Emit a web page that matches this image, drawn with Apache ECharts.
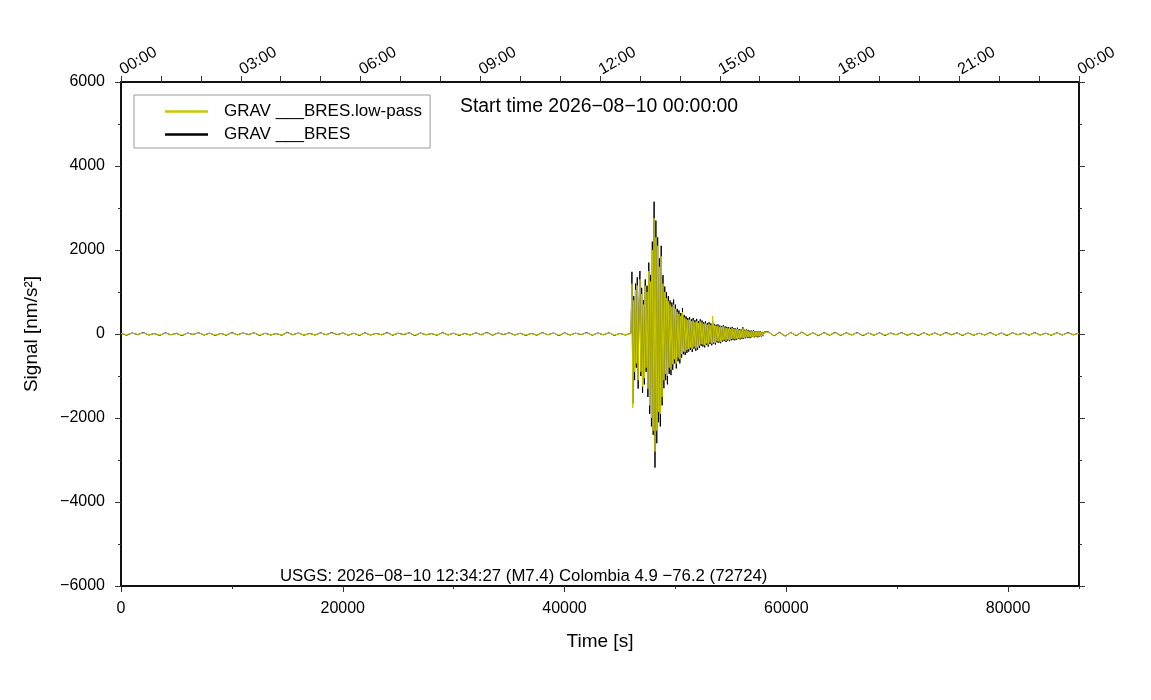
<!DOCTYPE html>
<html>
<head>
<meta charset="utf-8">
<title>GRAV BRES</title>
<script src="https://cdn.jsdelivr.net/npm/echarts@6/dist/echarts.min.js"></script>
<style>
  html, body { margin: 0; padding: 0; background: #fff; }
  #chart { width: 1151px; height: 700px; }
</style>
</head>
<body>
<div id="chart"></div>
<script>
// sample times (s since start of day)
var quietStep = 500;
var preStart = 0;
var burstStart = 46000;
var burstStep = 80;
var postStart = 58400;
var dayEnd = 86400;

// raw trace GRAV ___BRES, nm/s^2
var rawPre = [
  20, -30, 25, -15, 35, -25, 10, -35, 30, -20,
  15, -40, 25, -10, 30, -25, 20, -35, 15, -30,
  35, -20, 25, -15, 30, -35, 20, -25, 10, -30,
  40, -20, 25, -30, 15, -25, 30, -20, 35, -15,
  25, -30, 20, -35, 30, -25, 15, -20, 35, -30,
  20, -15, 30, -40, 25, -20, 10, -30, 35, -25,
  20, -35, 15, -25, 30, -20, 40, -30, 25, -15,
  30, -25, 20, -35, 15, -30, 35, -20, 25, -40,
  30, -25, 20, -15, 35, -30, 25, -20, 30, -35,
  15, -25
];
var rawBurst = [
  20, 1480, -1650, 900, -1100, 1200, -800, 1350, -1300, 700,
  1500, -1000, 1100, -1400, 800, -1200, 1300, -900, 1150, -1500,
  1700, -1900, 1400, -2200, 2200, -2400, 3150, -3180, 2700, -2600,
  2300, -2100, 1800, -2200, 2100, -1700, 1400, -1290, 1130, -1100,
  1000, -1200, 900, -950, 800, -980, 750, -850, 820, -700,
  700, -820, 600, -650, 560, -700, 500, -560, 620, -480,
  450, -500, 420, -450, 380, -420, 400, -380, 350, -430,
  380, -350, 330, -400, 360, -380, 300, -330, 350, -280,
  320, -300, 280, -320, 300, -260, 260, -300, 280, -240,
  250, -270, 300, -230, 240, -250, 220, -200, 230, -210,
  200, -220, 190, -180, 210, -170, 180, -190, 170, -160,
  160, -170, 150, -150, 170, -140, 140, -150, 130, -140,
  150, -120, 120, -130, 110, -120, 160, -110, 100, -100,
  110, -90, 90, -100, 80, -90, 80, -70, 90, -80,
  70, -70, 60, -80, 70, -60, 60, -60, 50, -50,
  50
];
var rawPost = [
  50, -45, 40, -50, 35, -40, 45, -35, 30, -40,
  35, -30, 40, -35, 30, -25, 35, -40, 25, -30,
  30, -35, 25, -20, 35, -30, 20, -35, 30, -25,
  25, -30, 35, -20, 30, -35, 25, -30, 20, -25,
  35, -30, 25, -35, 30, -20, 25, -30, 35, -25,
  20, -30, 30, -25, 35, -20, 25
];

// low-pass trace GRAV ___BRES.low-pass
var lowPre = [
  15, -20, 20, -10, 25, -20, 10, -25, 20, -15,
  10, -30, 20, -10, 25, -20, 15, -25, 10, -20,
  25, -15, 20, -10, 25, -25, 15, -20, 10, -25,
  30, -15, 20, -25, 10, -20, 25, -15, 25, -10,
  20, -25, 15, -25, 20, -20, 10, -15, 25, -20,
  15, -10, 25, -30, 20, -15, 10, -25, 25, -20,
  15, -25, 10, -20, 25, -15, 30, -25, 20, -10,
  25, -20, 15, -25, 10, -25, 25, -15, 20, -30,
  25, -20, 15, -10, 25, -25, 20, -15, 25, -25,
  10, -20
];
var lowBurst = [
  10, 1200, -1760, 800, -900, 1050, -700, 1150, -1100, 600,
  1300, -900, 950, -1250, 700, -1050, 1150, -800, 1000, -1300,
  1500, -1700, 1250, -2000, 2000, -2300, 2760, -2800, 2300, -2300,
  2100, -1850, 1600, -1900, 1850, -1500, 1200, -1100, 1000, -950,
  850, -1000, 780, -800, 700, -850, 650, -720, 700, -600,
  600, -700, 520, -560, 480, -600, 430, -480, 520, -420,
  390, -430, 360, -380, 330, -360, 340, -320, 300, -360,
  320, -300, 280, -340, 300, -320, 260, -280, 300, -240,
  270, -250, 240, -270, 250, -220, 220, -250, 240, -200,
  210, -230, 430, -200, 200, -210, 190, -170, 200, -180,
  170, -190, 160, -150, 180, -140, 150, -160, 140, -130,
  130, -140, 120, -120, 140, -110, 120, -120, 110, -110,
  120, -100, 100, -110, 90, -100, 130, -90, 80, -80,
  90, -70, 70, -80, 60, -70, 60, -60, 70, -60,
  60, -60, 50, -60, 60, -50, 50, -50, 40, -40,
  40
];
var lowPost = [
  40, -35, 30, -40, 30, -30, 35, -25, 25, -30,
  30, -25, 30, -25, 25, -20, 25, -30, 20, -25,
  25, -25, 20, -15, 25, -25, 15, -25, 25, -20,
  20, -25, 25, -15, 25, -25, 20, -25, 15, -20,
  25, -25, 20, -25, 25, -15, 20, -25, 25, -20,
  15, -25, 25, -20, 25, -15, 20
];

var hourLabels = ['00:00', '03:00', '06:00', '09:00', '12:00', '15:00', '18:00', '21:00', '00:00'];
var legendNames = ['GRAV ___BRES.low-pass', 'GRAV ___BRES'];
var titleText = 'Start time 2026\u221208\u221210 00:00:00';
var eventText = 'USGS: 2026\u221208\u221210 12:34:27 (M7.4) Colombia 4.9 \u221276.2 (72724)';

function segment(t0, step, vals) {
  var out = [];
  for (var i = 0; i < vals.length; i++) out.push([t0 + i * step, vals[i]]);
  return out;
}
function trace(pre, burst, post) {
  return segment(preStart, quietStep, pre)
    .concat(segment(burstStart, burstStep, burst))
    .concat(segment(postStart, quietStep, post));
}

var FONT = 'Liberation Sans, Arial, Helvetica, sans-serif';
var plain = function (v) { return String(v).replace('-', '\u2212'); };

var chart = echarts.init(document.getElementById('chart'), null, { renderer: 'canvas' });

var axisLine = { show: true, onZero: false, lineStyle: { color: '#111', width: 2 } };
var tickStyle = { color: '#333', width: 1 };

chart.setOption({
  animation: false,
  backgroundColor: '#fff',
  textStyle: { fontFamily: FONT, color: '#000' },
  title: [
    { text: titleText, left: 460, top: 97, padding: 0, textStyle: { fontFamily: FONT, fontSize: 19.4, fontWeight: 'normal', color: '#000' } },
    { text: eventText, left: 280, top: 568, padding: 0, textStyle: { fontFamily: FONT, fontSize: 16.8, fontWeight: 'normal', color: '#000' } }
  ],
  legend: {
    data: legendNames.map(function (n) { return { name: n, icon: 'rect' }; }),
    orient: 'vertical',
    left: 134,
    top: 95,
    padding: [5, 8, 2, 31],
    itemWidth: 43,
    itemHeight: 2.5,
    itemGap: 0,
    borderColor: '#9a9a9a',
    borderWidth: 1,
    borderRadius: 0,
    backgroundColor: '#fff',
    textStyle: { fontFamily: FONT, fontSize: 17, color: '#000', lineHeight: 23, padding: [0, 0, 0, 11] }
  },
  grid: { left: 121, right: 72, top: 82, bottom: 114, containLabel: false },
  xAxis: [
    {
      type: 'value', position: 'bottom', min: 0, max: dayEnd, interval: 20000,
      name: 'Time [s]', nameLocation: 'middle', nameGap: 46,
      nameTextStyle: { fontFamily: FONT, fontSize: 19, color: '#000' },
      axisLine: axisLine,
      axisTick: { show: true, inside: false, length: 6, lineStyle: tickStyle },
      axisLabel: { show: true, margin: 15, fontFamily: FONT, fontSize: 16, color: '#000', showMaxLabel: false, formatter: plain },
      splitLine: { show: false }
    },
    {
      type: 'value', position: 'top', min: 0, max: dayEnd, interval: 3600,
      axisLine: axisLine,
      axisTick: { show: true, inside: false, length: 6, lineStyle: tickStyle },
      axisLabel: {
        show: true, interval: 0, rotate: -30, margin: 11, fontFamily: FONT, fontSize: 16, color: '#000',
        formatter: function (v) { return v % 10800 === 0 ? hourLabels[v / 10800] : ''; }
      },
      splitLine: { show: false }
    },
    {
      type: 'value', position: 'bottom', min: 0, max: dayEnd, interval: 10000,
      axisLine: { show: false, onZero: false },
      axisTick: { show: true, inside: false, length: 3, lineStyle: tickStyle },
      axisLabel: { show: false },
      splitLine: { show: false }
    }
  ],
  yAxis: [
    {
      type: 'value', position: 'left', min: -6000, max: 6000, interval: 2000,
      name: 'Signal [nm/s\u00b2]', nameLocation: 'middle', nameGap: 80, nameRotate: 90,
      nameTextStyle: { fontFamily: FONT, fontSize: 19, color: '#000' },
      axisLine: axisLine,
      axisTick: { show: true, inside: false, length: 6, lineStyle: tickStyle },
      minorTick: { show: true, splitNumber: 2, length: 3, lineStyle: tickStyle },
      axisLabel: { margin: 16, fontFamily: FONT, fontSize: 16, color: '#000', formatter: plain },
      splitLine: { show: false },
      minorSplitLine: { show: false }
    },
    {
      type: 'value', position: 'right', min: -6000, max: 6000, interval: 2000,
      axisLine: axisLine,
      axisTick: { show: true, inside: false, length: 6, lineStyle: tickStyle },
      minorTick: { show: true, splitNumber: 2, length: 3, lineStyle: tickStyle },
      axisLabel: { show: false },
      splitLine: { show: false }
    }
  ],
  series: [
    {
      name: legendNames[1], type: 'line', xAxisIndex: 0, yAxisIndex: 0,
      showSymbol: false, symbol: 'none',
      lineStyle: { color: '#000', width: 1 }, itemStyle: { color: '#000' },
      data: trace(rawPre, rawBurst, rawPost), z: 2
    },
    {
      name: legendNames[0], type: 'line', xAxisIndex: 0, yAxisIndex: 0,
      showSymbol: false, symbol: 'none',
      lineStyle: { color: '#c8c800', width: 1 }, itemStyle: { color: '#c8c800' },
      data: trace(lowPre, lowBurst, lowPost), z: 3
    }
  ]
});

window.onresize = chart.resize;
</script>
</body>
</html>
